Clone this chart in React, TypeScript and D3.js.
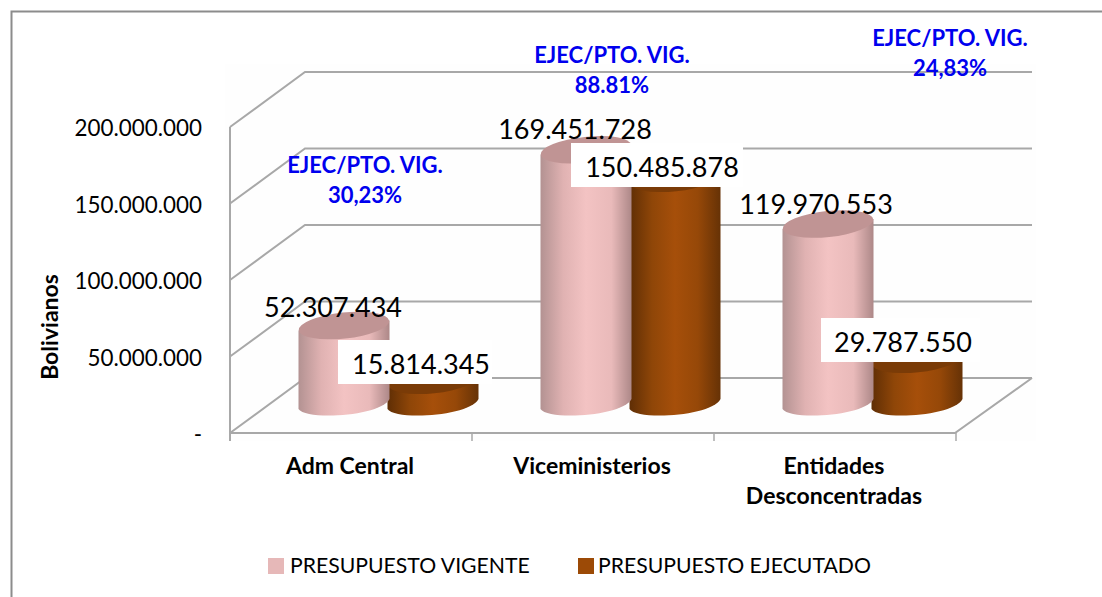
import React from "react";
import * as d3 from "d3";

const categories = [["Adm Central"], ["Viceministerios"], ["Entidades", "Desconcentradas"]];
const vigente = [52307434, 169451728, 119970553];
const ejecutado = [15814345, 150485878, 29787550];
const vigenteLabels = ["52.307.434", "169.451.728", "119.970.553"];
const ejecutadoLabels = ["15.814.345", "150.485.878", "29.787.550"];
const yTicks = [0, 50000000, 100000000, 150000000, 200000000];
const yTickLabels = ["-", "50.000.000", "100.000.000", "150.000.000", "200.000.000"];
const ratioLabels = ["30,23%", "88.81%", "24,83%"];
const ratioTitle = "EJEC/PTO. VIG.";
const ratioPos = [[365, 168], [612, 58], [950, 41]];
const vigLabelPos = [[333, 317], [575, 139], [816, 214]];
const ejeLabelPos = [[421, 374], [662, 177], [903, 352]];
const ejeBoxes = [[338, 154], [571, 172], [821, 159]];
const legendItems = ["PRESUPUESTO VIGENTE", "PRESUPUESTO EJECUTADO"];

const W = 1102, H = 597;
const FONT = "Lato, Carlito, 'Open Sans', sans-serif";
const GRID = "#a8a8a8";
const DX = 75, DY = -55;
const x0 = 230, x1 = 956;

export default function App() {
  const axisY = d3.scaleLinear().domain([0, 200000000]).range([433, 127]);
  const barY = d3.scaleLinear().domain([0, 200000000]).range([404, 104]);
  const band = d3.scaleBand<number>().domain([0, 1, 2]).range([x0, x1]);
  const step = band.step();
  const rx = 45.5, ry = 13, tilt = -6;

  const cyl = (cx: number, v: number, side: string, top: string, key: string) => {
    const base = barY(0), t = barY(v);
    const body = d3.path();
    body.moveTo(cx - rx, t + 5);
    body.lineTo(cx + rx, t - 5);
    body.lineTo(cx + rx, base - 5);
    body.bezierCurveTo(cx + rx - 8, base + 12, cx - rx + 8, base + 17, cx - rx, base + 5);
    body.closePath();
    return (
      <g key={key}>
        <path d={body.toString()} fill={`url(#${side})`} />
        <ellipse cx={cx} cy={t} rx={rx} ry={ry} fill={top} transform={`rotate(${tilt} ${cx} ${t})`} />
      </g>
    );
  };

  return (
    <svg width={W} height={H} style={{ position: "absolute", left: 0, top: 0, background: "#fff" }} fontFamily={FONT}>
      <defs>
        <linearGradient id="gPink" x1="0" x2="1" y1="0" y2="0">
          <stop offset="0" stopColor="#b39292" />
          <stop offset="0.25" stopColor="#e0b2b2" />
          <stop offset="0.5" stopColor="#f3c3c3" />
          <stop offset="0.78" stopColor="#e9baba" />
          <stop offset="1" stopColor="#ad8888" />
        </linearGradient>
        <linearGradient id="gBrown" x1="0" x2="1" y1="0" y2="0">
          <stop offset="0" stopColor="#5f2e05" />
          <stop offset="0.25" stopColor="#8f4608" />
          <stop offset="0.5" stopColor="#a64f0a" />
          <stop offset="0.75" stopColor="#964808" />
          <stop offset="1" stopColor="#663206" />
        </linearGradient>
      </defs>

      <path d={`M11.5 ${H}V11.5H${W}`} fill="none" stroke="#8c8c8c" strokeWidth={2} />

      <rect x={x0 - 5} y={axisY(200000000) + DY - 8} width={x1 - x0 + 85} height={axisY(0) - axisY(200000000) - DY + 16} fill="#fefefe" />

      {/* walls and gridlines */}
      {yTicks.map((t) => (
        <path key={t} d={`M${x0} ${axisY(t)}L${x0 + DX} ${axisY(t) + DY}H${x1 + DX + 1}`} fill="none" stroke={GRID} strokeWidth={2} />
      ))}
      <path d={`M${x0} ${axisY(200000000)}V${axisY(0) + 8}`} stroke={GRID} strokeWidth={2} fill="none" />
      <path d={`M${x0} ${axisY(0)}H${x1 - 1}L${x1 + DX + 1} ${axisY(0) + DY}`} stroke={GRID} strokeWidth={2} fill="none" />
      {[1, 2, 3].map((i) => (
        <line key={i} x1={x0 + step * i} x2={x0 + step * i} y1={axisY(0)} y2={axisY(0) + 8} stroke={GRID} strokeWidth={1.5} />
      ))}

      {/* y tick labels */}
      {yTicks.map((t, i) => (
        <text key={t} x={202} y={axisY(t) + 9} textAnchor="end" fontSize={22.4} fill="#000">{yTickLabels[i]}</text>
      ))}
      <text transform="translate(58 327) rotate(-90)" textAnchor="middle" fontSize={23} fontWeight={700} fill="#000">Bolivianos</text>

      {/* cylinders */}
      {categories.map((_, i) => {
        const c = band(i)! + step / 2;
        return (
          <g key={i}>
            {cyl(c + 82, ejecutado[i], "gBrown", "#7a3b07", "e")}
            {cyl(c - 7, vigente[i], "gPink", "#c09494", "v")}
          </g>
        );
      })}

      {/* data labels */}
      {vigenteLabels.map((l, i) => (
        <text key={l} x={vigLabelPos[i][0]} y={vigLabelPos[i][1]} textAnchor="middle" fontSize={27} fill="#000">{l}</text>
      ))}
      {ejecutadoLabels.map((l, i) => {
        const [cx, by] = ejeLabelPos[i];
        return (
          <g key={l}>
            <rect x={ejeBoxes[i][0]} y={by - 34} width={ejeBoxes[i][1]} height={44} fill="#fff" />
            <text x={cx} y={by} textAnchor="middle" fontSize={27} fill="#000">{l}</text>
          </g>
        );
      })}

      {/* ratio annotations */}
      {ratioLabels.map((l, i) => (
        <g key={l} fill="#0000ee" fontWeight={700} fontSize={22} textAnchor="middle">
          <text x={ratioPos[i][0]} y={ratioPos[i][1] + 5}>{ratioTitle}</text>
          <text x={ratioPos[i][0]} y={ratioPos[i][1] + 35}>{l}</text>
        </g>
      ))}

      {/* category labels */}
      {categories.map((lines, i) => (
        <text key={i} x={band(i)! + step / 2 - 1} textAnchor="middle" fontSize={23} fontWeight={700} fill="#000">
          {lines.map((l, j) => (
            <tspan key={l} x={band(i)! + step / 2 - 1} y={474 + j * 30}>{l}</tspan>
          ))}
        </text>
      ))}

      {/* legend */}
      <rect x={268} y={558} width={16} height={16} fill="#e6b8b8" />
      <text x={290} y={573} fontSize={21.2} fill="#000">{legendItems[0]}</text>
      <rect x={578} y={558} width={16} height={16} fill="#9c4a06" />
      <text x={598} y={573} fontSize={21.2} fill="#000">{legendItems[1]}</text>
    </svg>
  );
}
